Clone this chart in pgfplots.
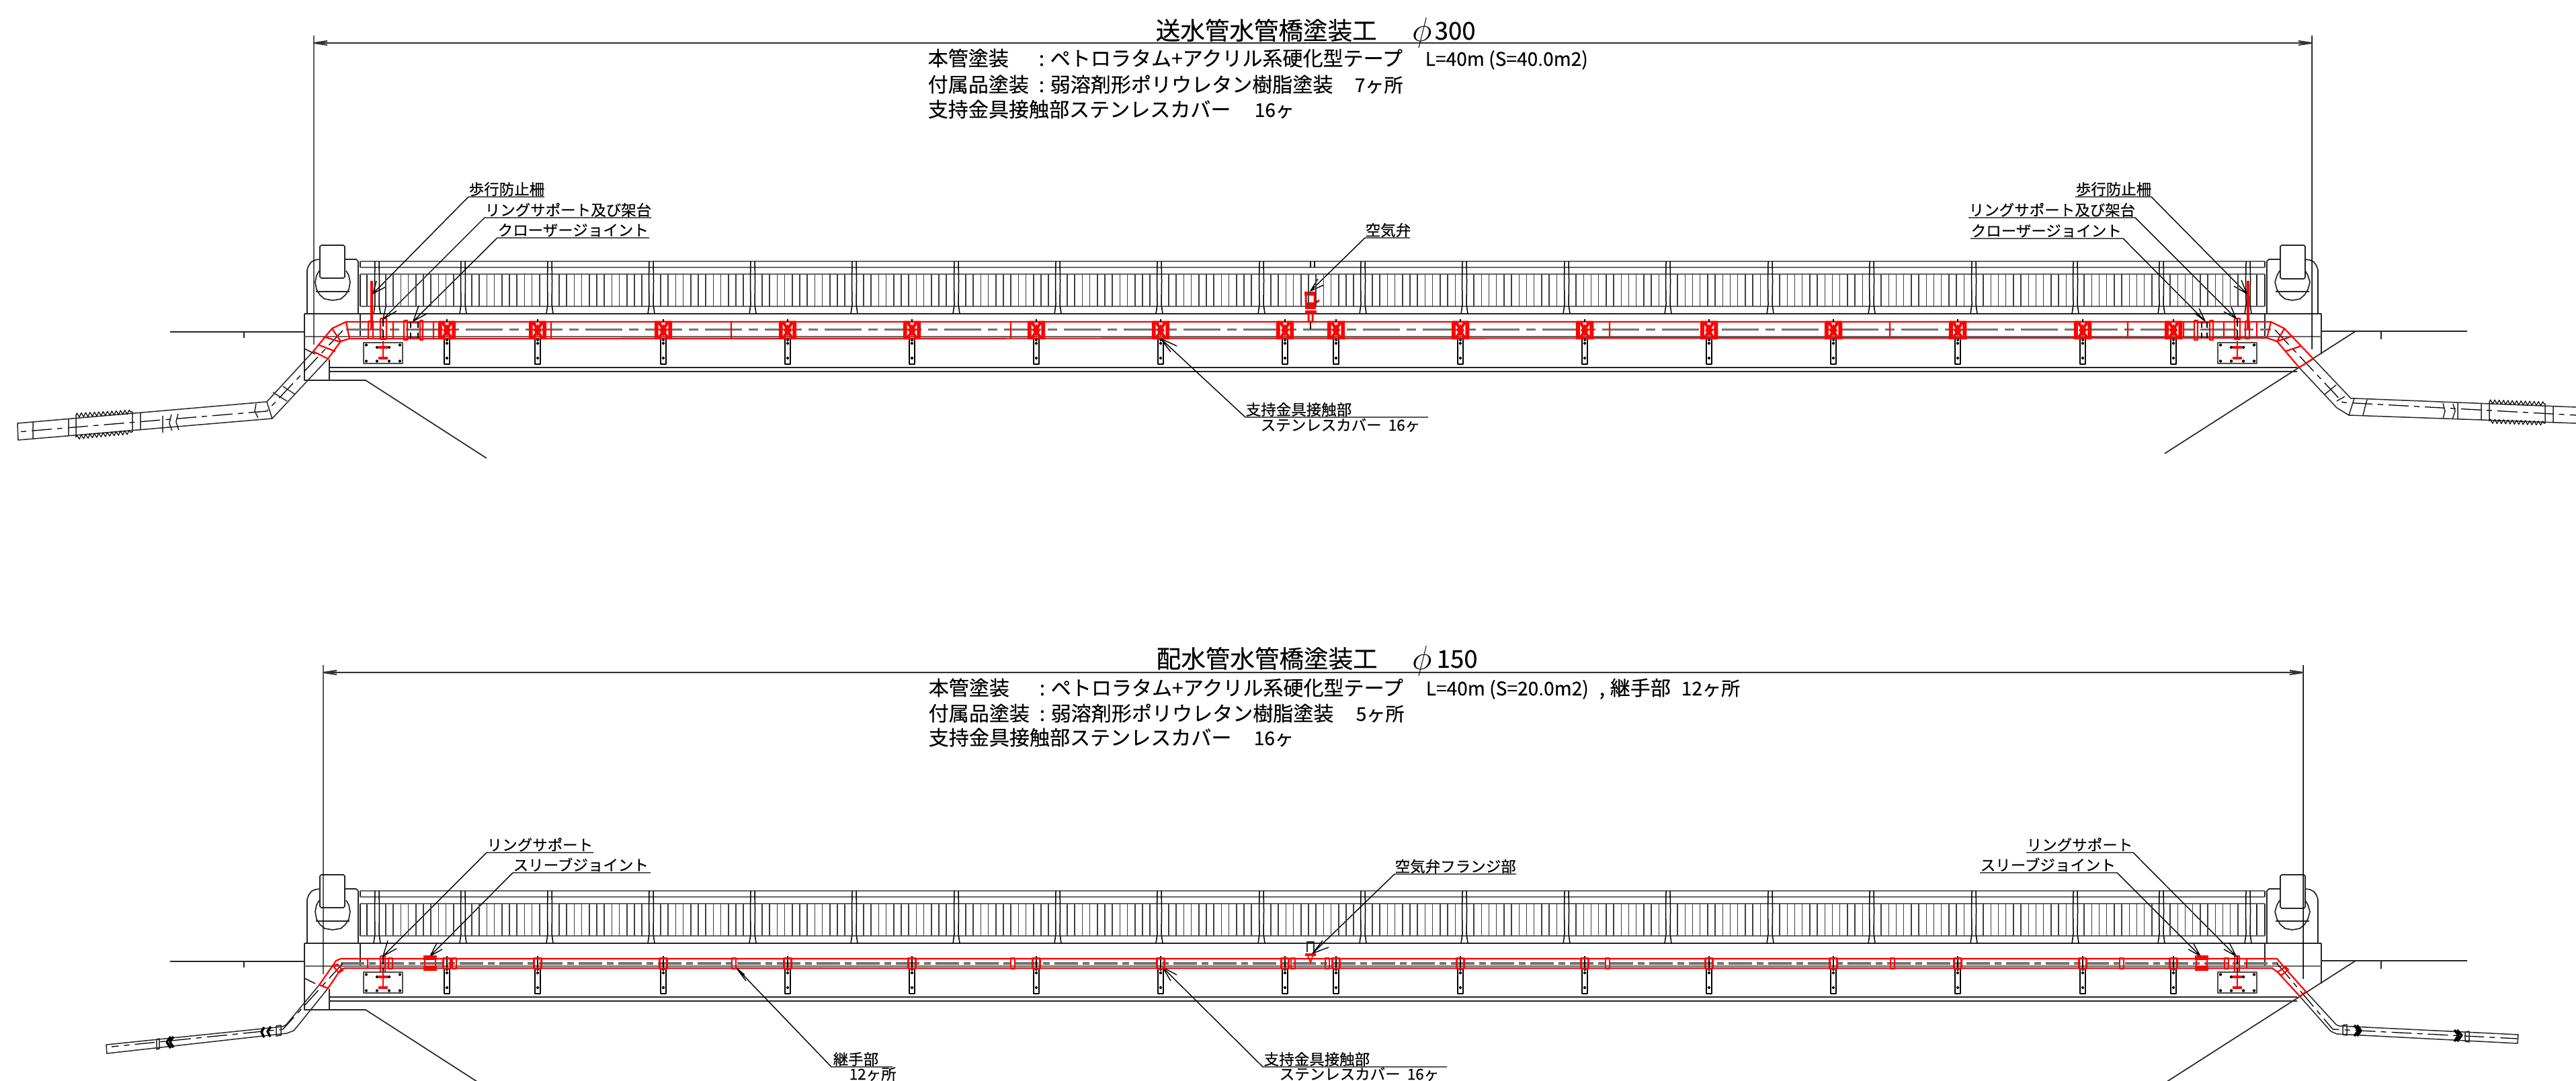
\documentclass[border=0pt]{standalone}
\usepackage{fontspec}
\usepackage{pgfplots}
\usepackage{pgfplotstable}
\pgfplotsset{compat=1.18}
\usetikzlibrary{decorations.pathmorphing}
\setmainfont[FakeBold=0.25]{Noto Sans CJK JP}

% all coordinates are image pixels, 1 px = 0.1 mm
\newcommand\fTitle{\fontsize{10.4}{10.4}\selectfont}
\newcommand\fBody{\fontsize{8.55}{8.55}\selectfont}
\newcommand\fLatin{\fontsize{8}{8}\selectfont}
\newcommand\fLabel{\fontsize{6.4}{6.4}\selectfont}
\newcommand\fPhi{\fontsize{15}{15}\selectfont}
\newcommand\txt[4]{\node[anchor=base west,inner sep=0pt,font=#1] at (axis cs:#2,#3) {#4};}

\tikzset{px/.style={x=.1mm,y=.1mm}}
\pgfdeclareplotmark{bpost}{\draw[px,black,line width=.15mm] (-3,39)--(-3.5,10)--(-3,-25)--(-5,-39) (3,39)--(3.5,10)--(3,-25)--(5,-39);}
\pgfdeclareplotmark{panelA}{\foreach \k in {14,25.2,36.4,47.6,58.8,70,81.2,92.4,103.6,114.8,126,137.2}{\draw[px,black!75,line width=.15mm] (\k,24)--(\k,-24);}}
\pgfdeclareplotmark{panelB}{\foreach \k in {13,24.2,35.4,46.6,57.8,69,80.2,91.4,102.6,113.8}{\draw[px,black!75,line width=.15mm] (\k,24)--(\k,-24);}}
\pgfdeclareplotmark{stem}{\draw[px,black,line width=.17mm] (-4,19)--(-4,-19)--(4,-19)--(4,19);
  \fill[px,black] (0,12) circle (1.6) (0,-10) circle (1.6) (0,17) circle (1.3);}
\pgfdeclareplotmark{supT}{\draw[px,red,line width=.25mm] (-11.5,-12.5) rectangle (11.5,12.5) (-8,12)--(8,-12) (8,12)--(-8,-12) (-5,12)--(5,-12) (5,12)--(-5,-12);
  \fill[px,red] (-12.5,-13) rectangle (-8,13) (8,-13) rectangle (12.5,13) (0,8)--(5,0)--(0,-8)--(-5,0)--cycle;
  \draw[px,black,line width=.2mm] (0,12.5)--(0,16) (0,-12.5)--(0,-16);}
\pgfdeclareplotmark{supB}{\draw[px,black,line width=.2mm] (0,11)--(0,-11);
  \draw[px,red,line width=.35mm] (-5.5,-7.5) rectangle (5.5,7.5);}
\pgfdeclareplotmark{jointB}{\draw[px,red,line width=.2mm] (-3,-8) rectangle (3,8);}
\pgfdeclareplotmark{sleeve}{\fill[px,red] (-9.5,10.5) rectangle (9.5,5) (-9.5,-10.5) rectangle (9.5,-5);
  \draw[px,red,line width=.25mm] (-8,5)--(-8,-5) (8,5)--(8,-5);}
\pgfdeclareplotmark{plate}{\draw[px,black!70,line width=.2mm] (-29,15.5) rectangle (29,-15.5);
  \fill[px,black] (-25,12) circle (1.7) (25,12) circle (1.7) (-25,-12) circle (1.7) (-9,-12) circle (1.7) (9,-12) circle (1.7) (25,-12) circle (1.7) (-9,8.5) circle (1.7) (9,8.5) circle (1.7);
  \draw[px,red,line width=.45mm] (-7,8.5)--(7,8.5) (-7,-7.5)--(7,-7.5);
  \draw[px,red,line width=.25mm] (0,15.5)--(0,-7.5);}

% railing posts and panels, second column is the offset from the row's height
\pgfplotstableread[row sep=\\]{x y\\561 0\\689 0\\818 0\\969 0\\1120 0\\1271 0\\1423 0\\1574 0\\1725 0\\1877 0\\2028 0\\2179 0\\2331 0\\2482 0\\2634 0\\2785 0\\2937 0\\3088 0\\3216 0\\3345 0\\}\tPosts
\pgfplotstableread[row sep=\\]{x y\\818 0\\969 0\\1120 0\\1271 0\\1423 0\\1574 0\\1725 0\\1877 0\\2028 0\\2179 0\\2331 0\\2482 0\\2634 0\\2785 0\\2937 0\\}\tPanelA
\pgfplotstableread[row sep=\\]{x y\\561 0\\689 0\\3088 0\\3216 0\\}\tPanelB
\pgfplotstableread[row sep=\\]{x y\\665 0\\800 0\\987 0\\1172 0\\1357 0\\1542 0\\1727 0\\1912 0\\1988 0\\2173 0\\2358 0\\2543 0\\2728 0\\2913 0\\3099 0\\3234 0\\}\tSupports
\pgfplotstableread[row sep=\\]{x y\\581 0\\676 0\\1092 0\\1507 0\\1924 0\\1975 0\\2392 0\\2816 0\\3157 0\\3313 0\\}\tJoints

% frame shared by both bridges, top drawing's y
\pgfplotstableread[row sep=\\]{x y\\
457 467\\457 402\\459 396\\463 390\\469 387\\476 386\\nan nan\\
513 386\\530 386\\533 389\\533 467\\nan nan\\
478 365\\511 365\\513 367\\513 412\\511 414\\478 414\\476 412\\476 367\\478 365\\nan nan\\
475 403\\471 410\\469 420\\471 431\\476 439\\483 445\\495 447\\507 445\\514 439\\519 431\\521 420\\519 410\\515 403\\nan nan\\
470 434\\520 434\\nan nan\\
3373 467\\3373 389\\3376 386\\3393 386\\nan nan\\
3430 386\\3437 387\\3443 390\\3447 396\\3449 402\\3449 467\\nan nan\\
3395 365\\3428 365\\3430 367\\3430 413\\3428 415\\3395 415\\3393 413\\3393 367\\3395 365\\nan nan\\
3392 403\\3388 410\\3385 420\\3388 431\\3393 439\\3400 445\\3411 447\\3422 445\\3429 439\\3434 431\\3437 420\\3434 410\\3430 403\\nan nan\\
3386 434\\3436 434\\nan nan\\
453 467\\453 566\\544 566\\724 682\\nan nan\\
490 535\\490 566\\nan nan\\
453 519\\469 527\\nan nan\\
3454 467\\3454 527\\nan nan\\
453 467\\3454 467\\nan nan\\
536 467\\536 501\\nan nan\\
3370 467\\3370 501\\nan nan\\
253 494\\453 494\\nan nan\\
363 494\\363 503\\nan nan\\
3454 493\\3671 493\\nan nan\\
3543 493\\3543 505\\nan nan\\
3505 493\\3221 675\\nan nan\\
490 547\\3418 547\\nan nan\\
490 553\\3418 553\\nan nan\\
536 389\\536 398\\nan nan\\
536 408\\536 456\\nan nan\\
3370 389\\3370 398\\nan nan\\
3370 408\\3370 456\\nan nan\\
546 408\\546 456\\nan nan\\
3358 408\\3358 456\\nan nan\\
}\tFrame
\pgfplotstableread[row sep=\\]{x y\\
536 389\\3370 389\\nan nan\\
536 398\\3370 398\\nan nan\\
536 408\\3370 408\\nan nan\\
536 456\\3370 456\\nan nan\\
453 501\\3454 501\\
}\tRails

\newcommand\Bridge[1]{
  \addplot[black!85,line width=.17mm] table[x=x,y expr={\thisrow{y}+#1}] {\tFrame};
  \addplot[black!60,line width=.27mm] table[x=x,y expr={\thisrow{y}+#1}] {\tRails};
  \addplot[only marks,mark=bpost] table[x=x,y expr={\thisrow{y}+428+#1}] {\tPosts};
  \addplot[only marks,mark=panelA] table[x=x,y expr={\thisrow{y}+432+#1}] {\tPanelA};
  \addplot[only marks,mark=panelB] table[x=x,y expr={\thisrow{y}+432+#1}] {\tPanelB};
  \addplot[only marks,mark=stem] table[x=x,y expr={\thisrow{y}+523+#1}] {\tSupports};
  \addplot[only marks,mark=plate] coordinates {(570,{525.5+#1}) (3329,{525.5+#1})};
}

\begin{document}
\begin{tikzpicture}
\begin{axis}[
  at={(0,0)},anchor=south west,
  scale only axis,width=38.33cm,height=16.09cm,
  xmin=0,xmax=3833,ymin=0,ymax=1609,y dir=reverse,
  hide axis,unbounded coords=jump,
  line join=round,
]
\Bridge{0}
\Bridge{937}

% top drawing, centre lines
\addplot[black!55,line width=.3mm,dash pattern=on 5.5mm off 1mm on 1.4mm off 1mm] coordinates {(515,491) (3379,491)};
\addplot[black,line width=.13mm,dash pattern=on 3mm off .8mm on .8mm off .8mm] coordinates {(510,492) (397,612) (26,643)};
\addplot[black,line width=.13mm,dash pattern=on 3mm off .8mm on .8mm off .8mm] coordinates {(3385,491) (3486,599) (3833,618)};

% top drawing, black pipe ends
\addplot[black!85,line width=.15mm] table[row sep=\\] {x y\\
466 523\\397 598\\26 630\\27 655\\405 623\\488 534\\nan nan\\
397 598\\405 623\\nan nan\\
421 575\\439 587\\nan nan\\
406 584\\427 597\\nan nan\\
381 601\\379 612\\384 622\\nan nan\\
242 619\\242 644\\nan nan\\
255 617\\252 630\\256 641\\nan nan\\
265 616\\262 628\\266 640\\nan nan\\
197 613\\197 643\\nan nan\\
209 615\\209 640\\nan nan\\
113 618\\113 651\\nan nan\\
102 623\\102 648\\nan nan\\
49 628\\49 653\\nan nan\\
3442 534\\3498 593\\3503 593\\3833 606\\nan nan\\
3421 547\\3477 607\\3495 618\\3833 630\\nan nan\\
3503 593\\3495 618\\nan nan\\
3476 573\\3459 587\\nan nan\\
3489 590\\3477 597\\nan nan\\
3522 595\\3519 606\\3516 618\\nan nan\\
3635 600\\3638 612\\3635 623\\nan nan\\
3650 601\\3653 612\\3649 624\\nan nan\\
3657 599\\3657 624\\nan nan\\
3692 600\\3692 625\\nan nan\\
3704 598\\3704 627\\nan nan\\
3787 601\\3787 630\\nan nan\\
3799 605\\3799 629\\
};
% threads
\addplot[black,line width=.12mm,decorate,decoration={zigzag,segment length=.65mm,amplitude=.3mm}] coordinates {(113,618) (197,613)};
\addplot[black,line width=.12mm,decorate,decoration={zigzag,segment length=.65mm,amplitude=.3mm}] coordinates {(113,651) (197,643)};
\addplot[black,line width=.12mm,decorate,decoration={zigzag,segment length=.65mm,amplitude=.3mm}] coordinates {(3704,598) (3787,601)};
\addplot[black,line width=.12mm,decorate,decoration={zigzag,segment length=.65mm,amplitude=.3mm}] coordinates {(3704,627) (3787,630)};

% top drawing, red pipe
\addplot[red,line width=.22mm] table[row sep=\\] {x y\\
515 479\\3379 479\\3399 489\\3442 534\\3421 547\\3388 508\\3373 503\\520 504\\507 508\\488 534\\466 523\\494 489\\515 479\\nan nan\\
515 479\\520 504\\nan nan\\
3379 479\\3373 503\\nan nan\\
494 489\\507 508\\nan nan\\
3399 489\\3388 508\\nan nan\\
481 501\\507 509\\nan nan\\
473 513\\499 523\\nan nan\\
3412 500\\3388 508\\nan nan\\
3424 515\\3400 523\\nan nan\\
585 479\\585 504\\nan nan\\
645 479\\645 504\\nan nan\\
820 479\\820 504\\nan nan\\
1088 479\\1088 504\\nan nan\\
1504 479\\1504 504\\nan nan\\
2395 479\\2395 504\\nan nan\\
2812 479\\2812 504\\nan nan\\
3166 479\\3166 504\\nan nan\\
3249 479\\3249 504\\nan nan\\
3309 479\\3309 504\\nan nan\\
3358 479\\3358 504\\nan nan\\
566 474\\575 474\\575 505\\566 505\\566 474\\nan nan\\
3325 474\\3333 474\\3333 505\\3325 505\\3325 474\\nan nan\\
548 478\\555 478\\555 504\\548 504\\548 478\\nan nan\\
3341 478\\3347 478\\3347 504\\3341 504\\3341 478\\nan nan\\
601 477\\606 477\\606 506\\601 506\\601 477\\nan nan\\
625 477\\629 477\\629 506\\625 506\\625 477\\nan nan\\
606 480\\625 480\\nan nan\\
606 503\\625 503\\nan nan\\
3265 477\\3270 477\\3270 506\\3265 506\\3265 477\\nan nan\\
3288 477\\3293 477\\3293 506\\3288 506\\3288 477\\nan nan\\
3270 480\\3288 480\\nan nan\\
3270 503\\3288 503\\
};
\addplot[red,line width=.4mm] coordinates {(553,418) (553,490) (nan,nan) (3345,418) (3345,490)};
\addplot[only marks,mark=supT] table[x=x,y expr={\thisrow{y}+491.5}] {\tSupports};
\addplot[black,line width=.13mm] table[row sep=\\] {x y\\
611 479\\611 488\\nan nan\\611 495\\611 503\\nan nan\\622 479\\622 488\\nan nan\\622 495\\622 503\\nan nan\\
3276 479\\3276 488\\nan nan\\3276 495\\3276 503\\nan nan\\3284 479\\3284 488\\nan nan\\3284 495\\3284 503\\nan nan\\
1950 389\\1950 398\\nan nan\\1956 389\\1956 398\\nan nan\\1950 480\\1950 490\\
};
\addplot[black,line width=.17mm,dash pattern=on 1.2mm off .5mm] coordinates {(570,474) (570,516) (nan,nan) (3329,474) (3329,516)};

% air valve
\addplot[red,line width=.3mm] table[row sep=\\] {x y\\
1943 440\\1943 450\\nan nan\\1956 440\\1956 450\\nan nan\\
1950 456\\1963 447\\nan nan\\
1947 466\\1947 479\\1953 479\\1953 466\\
};
\addplot[red,line width=.65mm] coordinates {(1941,437) (1959,437)};
\addplot[red,line width=1mm] coordinates {(1942,455) (1958,455)};
\addplot[red,line width=.5mm] coordinates {(1942,464.5) (1959,464.5)};

% bottom drawing, centre lines
\addplot[black!55,line width=.4mm,dash pattern=on 3.5mm off .7mm on 1mm off .7mm] coordinates {(507,1434) (3390,1434)};
\addplot[black,line width=.13mm,dash pattern=on 3mm off .8mm on .8mm off .8mm] coordinates {(510,1434) (421,1532) (166,1558)};
\addplot[black,line width=.13mm,dash pattern=on 3mm off .8mm on .8mm off .8mm] coordinates {(3388,1434) (3471,1532) (3746,1546)};

% bottom drawing, black pipe ends
\addplot[black!85,line width=.15mm] table[row sep=\\] {x y\\
475 1466\\426 1525\\421 1528\\158 1555\\159 1568\\427 1538\\437 1534\\443 1527\\488 1471\\nan nan\\
411 1527\\418 1526\\418 1541\\411 1542\\411 1527\\nan nan\\
233 1547\\237 1546\\237 1561\\233 1562\\233 1547\\nan nan\\
3431 1476\\3476 1525\\3480 1527\\3747 1540\\3746 1553\\3477 1539\\3468 1535\\3422 1483\\nan nan\\
3486 1526\\3492 1525\\3492 1541\\3486 1540\\3486 1526\\nan nan\\
3668 1536\\3674 1535\\3674 1551\\3668 1550\\3668 1536\\
};
\addplot[black,line width=.35mm] table[row sep=\\] {x y\\
393 1529\\389 1536\\393 1544\\nan nan\\403 1528\\398 1535\\402 1543\\nan nan\\
254 1543\\248 1551\\254 1560\\nan nan\\258 1543\\253 1551\\258 1559\\nan nan\\
3507 1526\\3513 1534\\3507 1542\\nan nan\\3503 1526\\3509 1534\\3503 1542\\nan nan\\
3656 1533\\3663 1541\\3656 1550\\nan nan\\3652 1533\\3658 1541\\3652 1550\\
};

% bottom drawing, red pipe
\addplot[red,line width=.22mm] table[row sep=\\] {x y\\
507 1427\\3388 1427\\3399 1440\\3431 1476\\3422 1483\\3389 1447\\3381 1441\\513 1441\\507 1443\\488 1471\\475 1466\\496 1436\\500 1430\\507 1427\\nan nan\\
496 1438\\502 1435\\510 1444\\504 1448\\496 1438\\nan nan\\
3389 1447\\3400 1439\\3405 1443\\3394 1452\\3389 1447\\nan nan\\
547 1427\\547 1441\\nan nan\\
3343 1427\\3343 1441\\nan nan\\
566 1423\\573 1423\\573 1447\\566 1447\\566 1423\\nan nan\\
3325 1423\\3332 1423\\3332 1447\\3325 1447\\3325 1423\\
};
\addplot[only marks,mark=supB] table[x=x,y expr={\thisrow{y}+1434}] {\tSupports};
\addplot[only marks,mark=jointB] table[x=x,y expr={\thisrow{y}+1434}] {\tJoints};
\addplot[only marks,mark=sleeve] coordinates {(640,1433.5) (3276,1433.5)};
\addplot[black,line width=.17mm,dash pattern=on 1.2mm off .5mm] coordinates {(570,1423) (570,1453) (nan,nan) (3329,1423) (3329,1453)};
% flange of the air valve
\addplot[black!85,line width=.15mm] coordinates {(1945,1417) (1945,1402) (1955,1402) (1955,1417)};
\addplot[red,line width=.45mm] coordinates {(1942,1421) (1958,1421)};
\addplot[red,line width=.17mm] coordinates {(1946,1423) (1950,1433) (1953,1423)};

% dimension lines and leaders
\addplot[black,line width=.14mm] table[row sep=\\] {x y\\
467 53\\467 513\\nan nan\\
3440 53\\3440 520\\nan nan\\
481 990\\481 1450\\nan nan\\
3427 990\\3427 1457\\nan nan\\
810 293\\697 293\\555 437\\560 418\\nan nan\\555 437\\574 427\\nan nan\\
969 324\\721 324\\570 475\\575 452\\nan nan\\570 475\\590 463\\nan nan\\
966 354\\740 354\\615 478\\623 455\\nan nan\\615 478\\635 467\\nan nan\\
3088 293\\3201 293\\3343 437\\3324 426\\nan nan\\3343 437\\3335 417\\nan nan\\
2929 324\\3177 324\\3327 474\\3309 464\\nan nan\\3327 474\\3320 457\\nan nan\\
2932 355\\3159 355\\3281 478\\3265 466\\nan nan\\3281 478\\3272 459\\nan nan\\
2098 354\\2031 354\\1950 433\\1961 415\\nan nan\\1950 433\\1970 424\\nan nan\\
2125 621\\1853 621\\1727 504\\1742 524\\nan nan\\1727 504\\1751 515\\nan nan\\
883 1269\\724 1269\\570 1423\\590 1412\\nan nan\\570 1423\\577 1400\\nan nan\\
968 1299\\763 1299\\640 1423\\650 1404\\nan nan\\640 1423\\658 1413\\nan nan\\
3015 1269\\3174 1269\\3327 1423\\3309 1413\\nan nan\\3327 1423\\3317 1403\\nan nan\\
2946 1299\\3150 1299\\3274 1423\\3256 1413\\nan nan\\3274 1423\\3264 1405\\nan nan\\
2256 1301\\2075 1301\\1953 1419\\1968 1400\\nan nan\\1953 1419\\1977 1410\\nan nan\\
2153 1588\\1879 1588\\1730 1440\\1742 1460\\nan nan\\1730 1440\\1751 1451\\nan nan\\
1328 1588\\1237 1588\\1095 1440\\1110 1460\\nan nan\\1095 1440\\1108 1451\\
};
\addplot[black!80,line width=.2mm] table[row sep=\\] {x y\\
467 64\\3440 64\\nan nan\\487 61\\467 64\\487 67\\nan nan\\3420 61\\3440 64\\3420 67\\nan nan\\
481 1001\\3427 1001\\nan nan\\501 998\\481 1001\\501 1004\\nan nan\\3407 998\\3427 1001\\3407 1004\\
};

% top text
\txt{\fTitle}{1719}{59}{送水管水管橋塗装工}
\txt{\fPhi}{2101}{62}{\(\phi\)}
\txt{\fTitle}{2134}{59}{300}
\txt{\fBody}{1380}{98}{本管塗装}
\txt{\fBody}{1545}{98}{:}
\txt{\fBody}{1562}{98}{ペトロラタム+アクリル系硬化型テープ}
\txt{\fLatin}{2120}{98}{L=40m (S=40.0m2)}
\txt{\fBody}{1380}{137}{付属品塗装}
\txt{\fBody}{1545}{137}{:}
\txt{\fBody}{1562}{137}{弱溶剤形ポリウレタン樹脂塗装}
\txt{\fLatin}{2015}{137}{7ヶ所}
\txt{\fBody}{1380}{174}{支持金具接触部ステンレスカバー}
\txt{\fLatin}{1866}{174}{16ヶ}
\txt{\fLabel}{697}{290}{歩行防止柵}
\txt{\fLabel}{721}{321}{リングサポート及び架台}
\txt{\fLabel}{740}{351}{クローザージョイント}
\txt{\fLabel}{3088}{290}{歩行防止柵}
\txt{\fLabel}{2929}{321}{リングサポート及び架台}
\txt{\fLabel}{2932}{352}{クローザージョイント}
\txt{\fLabel}{2031}{351}{空気弁}
\txt{\fLabel}{1853}{618}{支持金具接触部}
\txt{\fLabel}{1875}{641}{ステンレスカバー\ \ 16ヶ}

% bottom text
\txt{\fTitle}{1720}{994}{配水管水管橋塗装工}
\txt{\fPhi}{2101}{997}{\(\phi\)}
\txt{\fTitle}{2137}{994}{150}
\txt{\fBody}{1381}{1035}{本管塗装}
\txt{\fBody}{1546}{1035}{:}
\txt{\fBody}{1563}{1035}{ペトロラタム+アクリル系硬化型テープ}
\txt{\fLatin}{2121}{1035}{L=40m (S=20.0m2)}
\txt{\fBody}{2379}{1035}{,}
\txt{\fBody}{2395}{1035}{継手部}
\txt{\fLatin}{2501}{1035}{12ヶ所}
\txt{\fBody}{1381}{1073}{付属品塗装}
\txt{\fBody}{1546}{1073}{:}
\txt{\fBody}{1563}{1073}{弱溶剤形ポリウレタン樹脂塗装}
\txt{\fLatin}{2017}{1073}{5ヶ所}
\txt{\fBody}{1381}{1109}{支持金具接触部ステンレスカバー}
\txt{\fLatin}{1865}{1109}{16ヶ}
\txt{\fLabel}{724}{1266}{リングサポート}
\txt{\fLabel}{763}{1296}{スリーブジョイント}
\txt{\fLabel}{3015}{1266}{リングサポート}
\txt{\fLabel}{2946}{1296}{スリーブジョイント}
\txt{\fLabel}{2075}{1298}{空気弁フランジ部}
\txt{\fLabel}{1880}{1585}{支持金具接触部}
\txt{\fLabel}{1903}{1607}{ステンレスカバー\ \ 16ヶ}
\txt{\fLabel}{1239}{1585}{継手部}
\txt{\fLabel}{1263}{1607}{12ヶ所}
\end{axis}
\pgfresetboundingbox
\path[use as bounding box] (0,0) rectangle (38.33,16.09);
\end{tikzpicture}
\end{document}
